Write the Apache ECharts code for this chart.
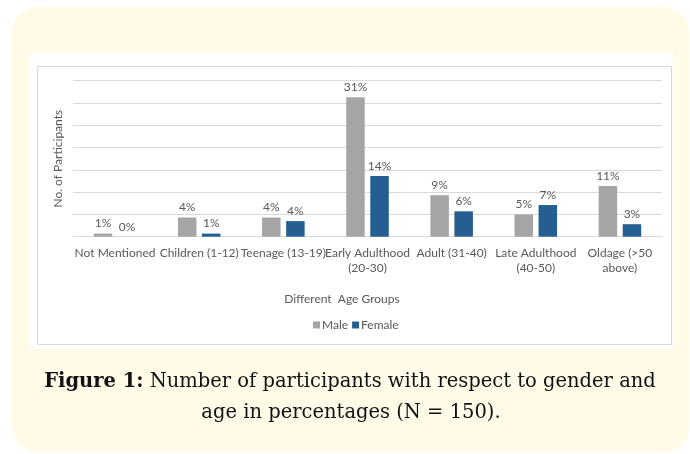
<!DOCTYPE html>
<html>
<head>
<meta charset="utf-8">
<script src="https://cdn.jsdelivr.net/npm/echarts@6/dist/echarts.min.js"></script>
<style>
html,body{margin:0;padding:0;background:#ffffff;}
#chart{width:690px;height:454px;}
</style>
</head>
<body>
<div id="chart"></div>
<script>
var categories = ['Not Mentioned', 'Children (1-12)', 'Teenage (13-19)', 'Early Adulthood\n(20-30)', 'Adult (31-40)', 'Late Adulthood\n(40-50)', 'Oldage (>50\nabove)'];
var maleValues = [0.7, 4.3, 4.3, 31.3, 9.3, 5.0, 11.4];
var femaleValues = [0, 0.7, 3.5, 13.6, 5.7, 7.1, 2.8];
var seriesNames = ['Male', 'Female'];
var xAxisTitle = 'Different  Age Groups';
var yAxisTitle = 'No. of Participants';
var captionBold = 'Figure 1:';
var captionLine1 = ' Number of participants with respect to gender and';
var captionLine2 = 'age in percentages (N = 150).';

var FONT = 'Lato, "Liberation Sans", sans-serif';
var SERIF = '"DejaVu Serif", "Liberation Serif", serif';
var TXT = '#595959';

var chart = echarts.init(document.getElementById('chart'), null, {renderer: 'canvas'});
var labelCfg = {
  show: true, position: 'top', distance: 4, color: TXT, fontSize: 12, fontFamily: FONT,
  formatter: function (p) { return Math.round(p.value) + '%'; }
};
chart.setOption({
  animation: false,
  graphic: [
    {type: 'rect', z: -10, shape: {x: 12, y: 7, width: 677, height: 445, r: 25}, style: {fill: '#fffbe8'}},
    {type: 'rect', z: -9, shape: {x: 29, y: 53, width: 644, height: 295}, style: {fill: '#ffffff'}},
    {type: 'rect', z: -8, shape: {x: 37.5, y: 66.5, width: 634, height: 278}, style: {fill: '#ffffff', stroke: '#d9d9d9', lineWidth: 1}},
    {type: 'text', style: {text: xAxisTitle, x: 342, y: 299, align: 'center', verticalAlign: 'middle', fill: TXT, font: '12px ' + FONT}},
    {type: 'text', style: {
      x: 350, y: 382, align: 'center', verticalAlign: 'middle',
      text: '{b|' + captionBold + '}{r|' + captionLine1 + '}',
      rich: {
        b: {fontFamily: SERIF, fontSize: 19.5, fontWeight: 'bold', fill: '#111111'},
        r: {fontFamily: SERIF, fontSize: 19.5, fill: '#111111'}
      }
    }},
    {type: 'text', style: {x: 351, y: 413, align: 'center', verticalAlign: 'middle', text: captionLine2, fill: '#111111', font: '19.5px ' + SERIF}}
  ],
  legend: {
    data: seriesNames, left: 313, top: 319, padding: 0, icon: 'rect', itemWidth: 7, itemHeight: 7, itemGap: 4,
    textStyle: {color: TXT, fontSize: 12, fontFamily: FONT, padding: [0, 0, 0, -3]}
  },
  grid: {left: 73, right: 28, top: 80.7, bottom: 217.3, containLabel: false},
  xAxis: {
    type: 'category', data: categories,
    axisLine: {lineStyle: {color: '#d9d9d9'}},
    axisTick: {show: false},
    axisLabel: {color: TXT, fontSize: 12, fontFamily: FONT, lineHeight: 15, margin: 9, interval: 0}
  },
  yAxis: {
    type: 'value', min: 0, max: 35, interval: 5,
    name: yAxisTitle, nameLocation: 'middle', nameGap: 9, nameRotate: 90,
    nameTextStyle: {color: TXT, fontSize: 12, fontFamily: FONT},
    axisLabel: {show: false}, axisLine: {show: false}, axisTick: {show: false},
    splitLine: {lineStyle: {color: '#d9d9d9'}}
  },
  series: [
    {name: seriesNames[0], type: 'bar', data: maleValues, barWidth: 18.5, barGap: '30%', itemStyle: {color: '#a5a5a5'}, label: labelCfg},
    {name: seriesNames[1], type: 'bar', data: femaleValues, barWidth: 18.5, barGap: '30%', itemStyle: {color: '#255e91'}, label: labelCfg}
  ]
});
</script>
</body>
</html>
